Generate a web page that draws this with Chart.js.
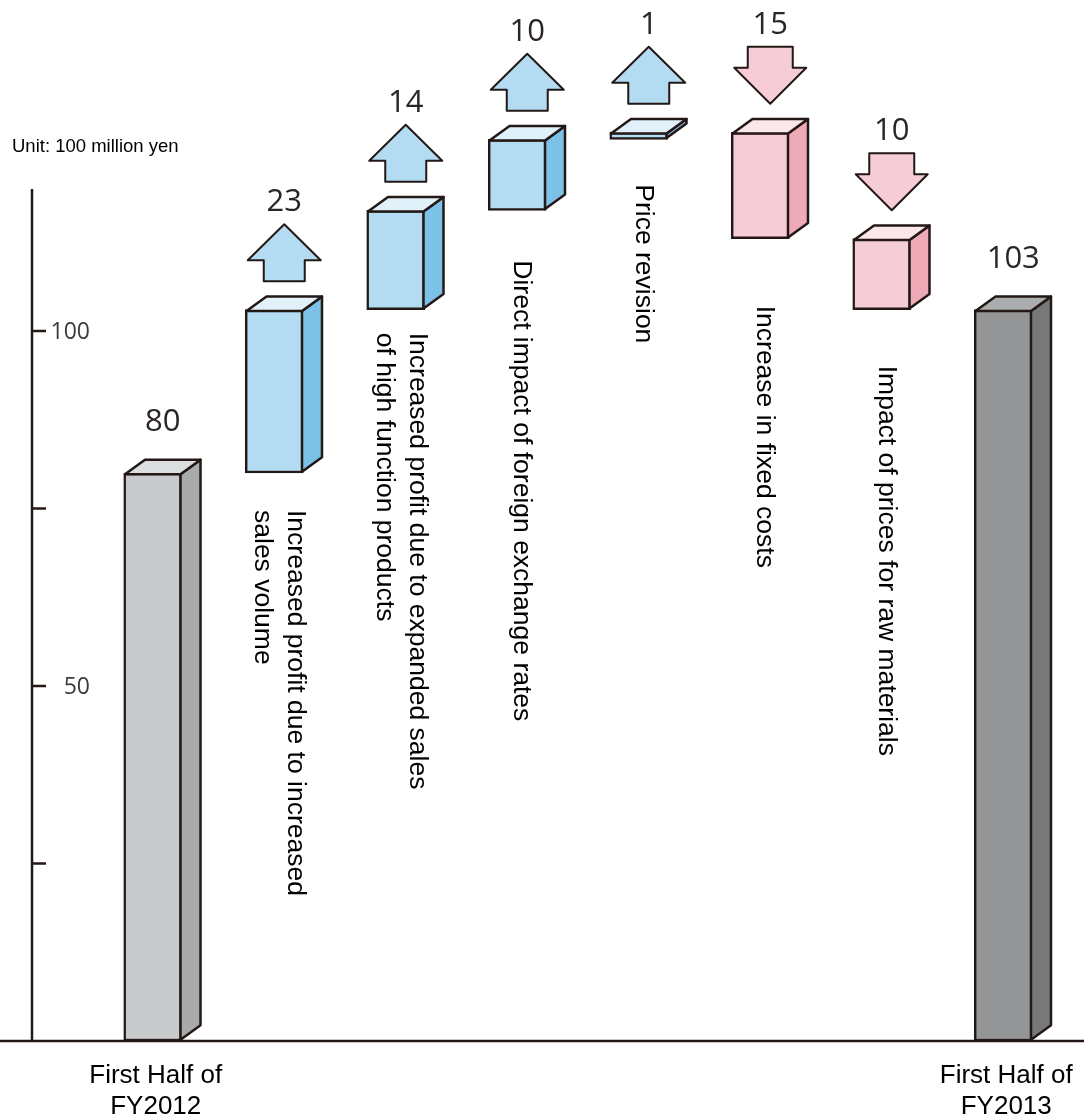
<!DOCTYPE html>
<html>
<head>
<meta charset="utf-8">
<script src="https://cdn.jsdelivr.net/npm/chart.js@4/dist/chart.umd.min.js"></script>
<style>
  html, body { margin: 0; padding: 0; background: #ffffff; }
  canvas { display: block; }
</style>
</head>
<body>
<canvas id="bridge" width="1084" height="1117"></canvas>
<script>
// Operating profit bridge, first half FY2012 -> first half FY2013 (100 million yen)
const categories = [
  'First Half of FY2012',
  'Increased profit due to increased sales volume',
  'Increased profit due to expanded sales of high function products',
  'Direct impact of foreign exchange rates',
  'Price revision',
  'Increase in fixed costs',
  'Impact of prices for raw materials',
  'First Half of FY2013'
];
const values = [80, 23, 14, 10, 1, -15, -10, 103];
const isTotal = [true, false, false, false, false, false, false, true];

const xLabels = [['First Half of', 'FY2012'], null, null, null, null, null, null, ['First Half of', 'FY2013']];
const stepLabels = [
  null,
  ['Increased profit due to increased', 'sales volume'],
  ['Increased profit due to expanded sales', 'of high function products'],
  ['Direct impact of foreign exchange rates'],
  ['Price revision'],
  ['Increase in fixed costs'],
  ['Impact of prices for raw materials'],
  null
];
const yTicks = [25, 50, 75, 100];
const yTickLabels = ['', '50', '', '100'];
const yAxisTop = 120;
const unitLabel = 'Unit: 100 million yen';

// floating ranges: totals stand on zero, steps run from the previous running total
const ranges = [];
let running = 0;
values.forEach((v, i) => {
  if (isTotal[i]) { ranges.push([0, v]); running = v; }
  else { ranges.push([running, running + v]); running += v; }
});

const INK = '#231815';
const palette = {
  startTotal: { front: '#c9cacc', side: '#a8aaac', top: '#dddedf' },
  endTotal:   { front: '#939597', side: '#76787a', top: '#aaacae' },
  up:         { front: '#b3dbf1', side: '#7cc1e6', top: '#e0f1fa' },
  down:       { front: '#f6cdd6', side: '#eeaab7', top: '#fbe6eb' }
};
function colorsFor(i) {
  if (isTotal[i]) return i === 0 ? palette.startTotal : palette.endTotal;
  return values[i] >= 0 ? palette.up : palette.down;
}

const BW = 2.5;           // outline width
const DX = 20, DY = 14.5; // 3D depth offset

// draws side/top faces, arrows, value labels, captions and axes
const bridgePlugin = {
  id: 'bridge',
  afterDatasetsDraw(chart) {
    const ctx = chart.ctx;
    const yScale = chart.scales.y;
    const meta = chart.getDatasetMeta(0);

    ctx.save();
    ctx.lineJoin = 'round';
    ctx.strokeStyle = INK;
    ctx.lineWidth = BW;

    // baseline across the full width
    const y0 = yScale.getPixelForValue(0);
    ctx.beginPath();
    ctx.moveTo(0, y0);
    ctx.lineTo(chart.width, y0);
    ctx.stroke();

    // vertical value axis with inward ticks
    const axisX = 32;
    ctx.beginPath();
    ctx.moveTo(axisX, yScale.getPixelForValue(yAxisTop));
    ctx.lineTo(axisX, y0);
    ctx.stroke();
    ctx.font = '23px "Open Sans"';
    ctx.fillStyle = '#3e3a39';
    ctx.textAlign = 'right';
    ctx.textBaseline = 'middle';
    yTicks.forEach((t, k) => {
      const py = yScale.getPixelForValue(t);
      ctx.beginPath();
      ctx.moveTo(axisX, py);
      ctx.lineTo(axisX + 14, py);
      ctx.stroke();
      if (yTickLabels[k]) ctx.fillText(yTickLabels[k], 90, py + 1);
    });

    meta.data.forEach((bar, i) => {
      const p = bar.getProps(['x', 'y', 'base', 'width'], true);
      const c = colorsFor(i);
      const topPx = Math.min(p.y, p.base);
      const botPx = Math.max(p.y, p.base);
      const L = p.x - p.width / 2 + BW / 2;
      const R = p.x + p.width / 2 - BW / 2;
      const T = topPx + BW / 2;
      const B = botPx - BW / 2;

      // side face
      ctx.beginPath();
      ctx.moveTo(R, T);
      ctx.lineTo(R + DX, T - DY);
      ctx.lineTo(R + DX, B - DY);
      ctx.lineTo(R, B);
      ctx.closePath();
      ctx.fillStyle = c.side;
      ctx.fill();
      ctx.stroke();

      // top face
      ctx.beginPath();
      ctx.moveTo(L, T);
      ctx.lineTo(L + DX, T - DY);
      ctx.lineTo(R + DX, T - DY);
      ctx.lineTo(R, T);
      ctx.closePath();
      ctx.fillStyle = c.top;
      ctx.fill();
      ctx.stroke();

      const cx = p.x + DX / 2;
      const backTop = topPx - DY;
      let labelY;

      if (!isTotal[i]) {
        // direction arrow above the block
        const yb = backTop - 14;
        ctx.beginPath();
        if (values[i] >= 0) {
          ctx.moveTo(cx - 20.5, yb);
          ctx.lineTo(cx + 20.5, yb);
          ctx.lineTo(cx + 20.5, yb - 21);
          ctx.lineTo(cx + 36.5, yb - 21);
          ctx.lineTo(cx, yb - 57);
          ctx.lineTo(cx - 36.5, yb - 21);
          ctx.lineTo(cx - 20.5, yb - 21);
        } else {
          ctx.moveTo(cx, yb);
          ctx.lineTo(cx + 36, yb - 36);
          ctx.lineTo(cx + 22.5, yb - 36);
          ctx.lineTo(cx + 22.5, yb - 57);
          ctx.lineTo(cx - 22.5, yb - 57);
          ctx.lineTo(cx - 22.5, yb - 36);
          ctx.lineTo(cx - 36, yb - 36);
        }
        ctx.closePath();
        ctx.fillStyle = c.front;
        ctx.fill();
        ctx.lineWidth = 2;
        ctx.stroke();
        ctx.lineWidth = BW;
        labelY = yb - 57 - 22;
      } else {
        labelY = backTop - 36;
      }

      // value label
      ctx.font = '31px "Open Sans"';
      ctx.fillStyle = '#2b2624';
      ctx.textAlign = 'center';
      ctx.textBaseline = 'middle';
      ctx.fillText(String(Math.abs(values[i])), cx, labelY);

      // vertical captions under the step blocks
      const lines = stepLabels[i];
      if (lines) {
        const gaps = [0, 37, 23, 50, 45, 67, 56, 0];
        ctx.save();
        const firstBase = lines.length > 1 ? p.x + 14 : p.x - 3;
        ctx.translate(firstBase, botPx + gaps[i]);
        ctx.rotate(Math.PI / 2);
        ctx.font = '26.5px "Liberation Sans"';
        ctx.fillStyle = '#000000';
        ctx.textAlign = 'left';
        ctx.textBaseline = 'alphabetic';
        lines.forEach((ln, k) => ctx.fillText(ln, 0, k * 33));
        ctx.restore();
      }

      // category captions under the totals
      if (xLabels[i]) {
        ctx.font = '26px "Liberation Sans"';
        ctx.fillStyle = '#000000';
        ctx.textAlign = 'center';
        ctx.textBaseline = 'alphabetic';
        ctx.fillText(xLabels[i][0], p.x + 3, 1083);
        ctx.fillText(xLabels[i][1], p.x + 3, 1114);
      }
    });

    // unit note
    ctx.font = '18.5px "Liberation Sans"';
    ctx.fillStyle = '#000000';
    ctx.textAlign = 'left';
    ctx.textBaseline = 'middle';
    ctx.fillText(unitLabel, 12, 147);

    ctx.restore();
  }
};

new Chart(document.getElementById('bridge'), {
  type: 'bar',
  data: {
    labels: categories,
    datasets: [{
      data: ranges,
      backgroundColor: values.map((v, i) => colorsFor(i).front),
      borderColor: INK,
      borderWidth: BW,
      borderSkipped: false,
      barThickness: 58
    }]
  },
  options: {
    responsive: false,
    animation: false,
    devicePixelRatio: 1,
    layout: { padding: { left: 92, right: 20, top: 47, bottom: 76 } },
    plugins: { legend: { display: false }, tooltip: { enabled: false } },
    scales: {
      x: { display: false, offset: true },
      y: { display: false, min: 0, max: 140 }
    }
  },
  plugins: [bridgePlugin]
});
</script>
</body>
</html>
